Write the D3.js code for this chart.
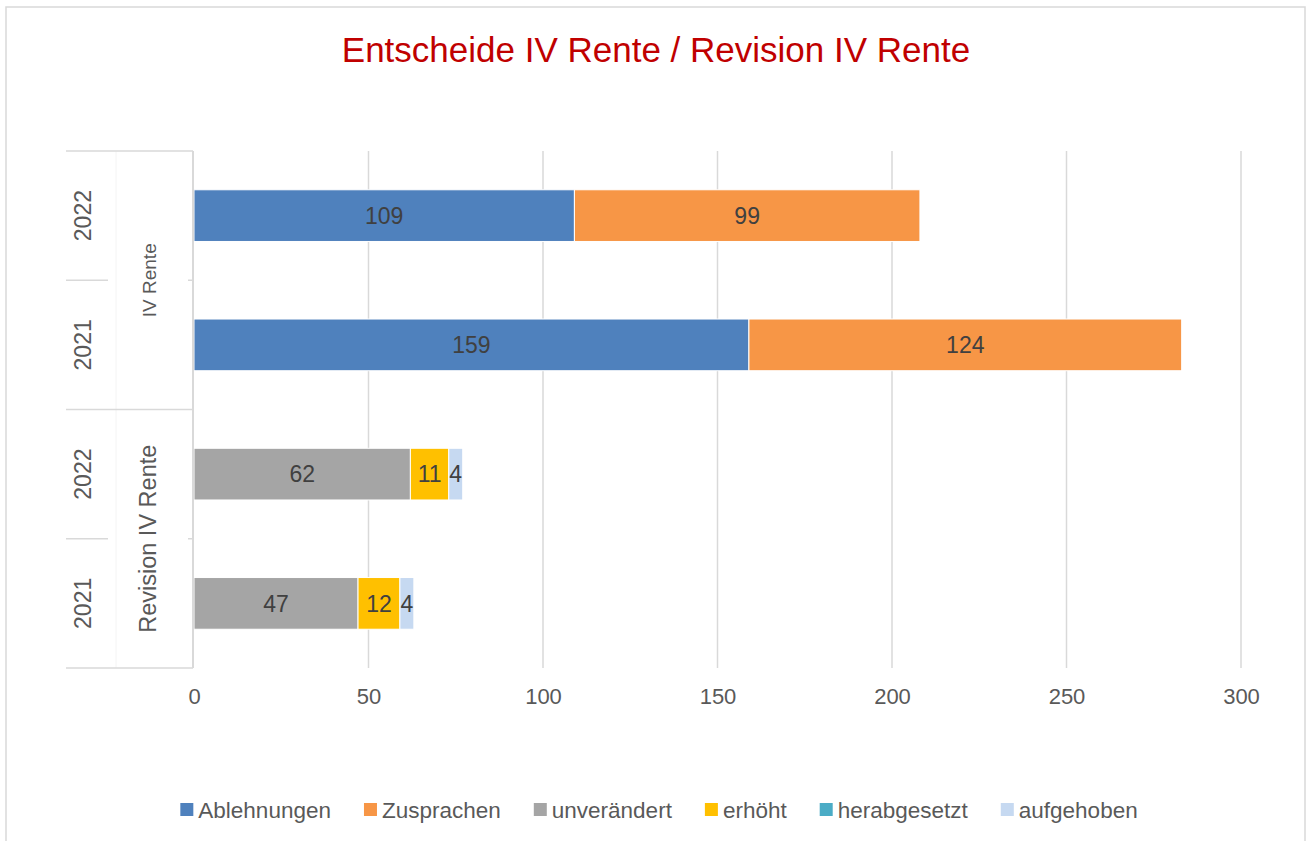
<!DOCTYPE html>
<html>
<head>
<meta charset="utf-8">
<script src="https://cdn.jsdelivr.net/npm/d3@7"></script>
<style>
  body { margin: 0; background: #fff; }
  svg { display: block; font-family: "Liberation Sans", Arial, sans-serif; }
</style>
</head>
<body>
<div class="chart"></div>
<script>
// Categories (top to bottom): group + year
const groupNames = ["IV Rente", "Revision IV Rente"];
const categoryGroups = ["IV Rente", "IV Rente", "Revision IV Rente", "Revision IV Rente"];
const categoryYears = ["2022", "2021", "2022", "2021"];

// Series values per category
const seriesNames = ["Ablehnungen", "Zusprachen", "unverändert", "erhöht", "herabgesetzt", "aufgehoben"];
const ablehnungen = [109, 159, 0, 0];
const zusprachen = [99, 124, 0, 0];
const unveraendert = [0, 0, 62, 47];
const erhoeht = [0, 0, 11, 12];
const herabgesetzt = [0, 0, 0, 0];
const aufgehoben = [0, 0, 4, 4];
const seriesColors = ["#4F81BD", "#F79646", "#A5A5A5", "#FFC000", "#4BACC6", "#C6D9F1"];

const xTicks = [0, 50, 100, 150, 200, 250, 300];

const width = 1311, height = 841;
const plot = { left: 194, right: 1241, top: 151, bottom: 668 };

const svg = d3.select(".chart").append("svg")
  .attr("width", width)
  .attr("height", height);

// chart frame
svg.append("rect")
  .attr("x", 6).attr("y", 7)
  .attr("width", 1299).attr("height", 850)
  .attr("fill", "#fff")
  .attr("stroke", "#d9d9d9")
  .attr("stroke-width", 1.5);

// title
svg.append("text")
  .attr("x", 656).attr("y", 62)
  .attr("text-anchor", "middle")
  .style("font-size", "35px")
  .style("fill", "#C00000")
  .text("Entscheide IV Rente / Revision IV Rente");

// scales
const xScale = d3.scaleLinear().domain([0, 300]).range([plot.left, plot.right]);
const yScale = d3.scaleBand()
  .domain(d3.range(categoryYears.length))
  .range([plot.top, plot.bottom])
  .paddingInner(0.6)
  .paddingOuter(0.3);

// gridlines
svg.append("g").selectAll("line")
  .data(xTicks.slice(1))
  .enter().append("line")
  .attr("x1", d => xScale(d)).attr("x2", d => xScale(d))
  .attr("y1", plot.top).attr("y2", plot.bottom)
  .attr("stroke", "#d9d9d9")
  .attr("stroke-width", 1.5);

// x tick labels
const xAxis = d3.axisBottom(xScale).tickValues(xTicks).tickSize(0).tickPadding(0);
const xg = svg.append("g")
  .attr("transform", `translate(0,${plot.bottom + 20})`)
  .call(xAxis);
xg.select(".domain").remove();
xg.selectAll("text")
  .style("font-size", "22px")
  .style("font-family", "'Liberation Sans', Arial, sans-serif")
  .attr("fill", "#595959");

// stacked bars
const seriesValues = [ablehnungen, zusprachen, unveraendert, erhoeht, herabgesetzt, aufgehoben];
const rows = categoryYears.map((y, i) => {
  const row = { idx: i };
  seriesNames.forEach((s, j) => { row[s] = seriesValues[j][i]; });
  return row;
});
const stacked = d3.stack().keys(seriesNames)(rows);

const layers = svg.append("g").selectAll("g")
  .data(stacked)
  .enter().append("g")
  .attr("fill", (d, i) => seriesColors[i]);

layers.selectAll("rect")
  .data(d => d.filter(p => p[1] - p[0] > 0))
  .enter().append("rect")
  .attr("x", p => xScale(p[0]))
  .attr("width", p => xScale(p[1]) - xScale(p[0]))
  .attr("y", p => yScale(p.data.idx))
  .attr("height", yScale.bandwidth())
  .attr("stroke", "#fff")
  .attr("stroke-width", 1);

// data labels
layers.selectAll("text")
  .data(d => d.filter(p => p[1] - p[0] > 0))
  .enter().append("text")
  .attr("x", p => (xScale(p[0]) + xScale(p[1])) / 2)
  .attr("y", p => yScale(p.data.idx) + yScale.bandwidth() / 2)
  .attr("dy", "0.36em")
  .attr("text-anchor", "middle")
  .style("font-size", "23px")
  .attr("fill", "#404040")
  .text(p => p[1] - p[0]);

// category axis
const axisColor = "#d9d9d9";
const step = yScale.step();
const catAxis = svg.append("g").attr("stroke", axisColor).attr("stroke-width", 1.5);
catAxis.append("line")
  .attr("x1", plot.left - 1).attr("x2", plot.left - 1)
  .attr("y1", plot.top).attr("y2", plot.bottom).attr("stroke-width", 2);
// faint column divider
catAxis.append("line")
  .attr("x1", 116).attr("x2", 116)
  .attr("y1", plot.top).attr("y2", plot.bottom)
  .attr("stroke", "#f4f4f4").attr("stroke-width", 1);
// outer horizontal lines and group divider
[0, 2, 4].forEach(i => {
  catAxis.append("line")
    .attr("x1", 66).attr("x2", plot.left - 1)
    .attr("y1", plot.top + i * step).attr("y2", plot.top + i * step);
});
// year dividers inside groups
[1, 3].forEach(i => {
  const y = plot.top + i * step;
  catAxis.append("line").attr("x1", 66).attr("x2", 108).attr("y1", y).attr("y2", y);
  catAxis.append("line").attr("x1", 188).attr("x2", plot.left - 1).attr("y1", y).attr("y2", y);
});

// year labels
svg.append("g").selectAll("text")
  .data(categoryYears)
  .enter().append("text")
  .attr("transform", (d, i) => `translate(91,${yScale(i) + yScale.bandwidth() / 2}) rotate(-90)`)
  .attr("text-anchor", "middle")
  .style("font-size", "23px")
  .attr("fill", "#595959")
  .text(d => d);

// group labels
const groupSizes = [19, 23.5];
svg.append("g").selectAll("text")
  .data(groupNames)
  .enter().append("text")
  .attr("transform", (d, gi) => {
    const idx = categoryGroups.map((g, i) => g === d ? i : -1).filter(i => i >= 0);
    const cy = (yScale(idx[0]) + yScale(idx[idx.length - 1]) + yScale.bandwidth()) / 2;
    return `translate(156,${cy}) rotate(-90)`;
  })
  .attr("text-anchor", "middle")
  .style("font-size", (d, gi) => groupSizes[gi] + "px")
  .attr("fill", "#595959")
  .text(d => d);

// legend
const legend = svg.append("g").attr("transform", "translate(0,818)");
const items = legend.selectAll("g")
  .data(seriesNames)
  .enter().append("g");
items.append("rect")
  .attr("y", -15).attr("width", 13).attr("height", 13)
  .attr("fill", (d, i) => seriesColors[i]);
items.append("text")
  .attr("x", 18)
  .style("font-size", "22.5px")
  .attr("fill", "#595959")
  .text(d => d);
let widths = [];
items.each(function() { widths.push(this.querySelector("text").getComputedTextLength() + 18); });
const gap = 33;
const total = d3.sum(widths) + gap * (widths.length - 1);
let cx = 659 - total / 2;
items.attr("transform", (d, i) => {
  const t = `translate(${cx},0)`;
  cx += widths[i] + gap;
  return t;
});
</script>
</body>
</html>
